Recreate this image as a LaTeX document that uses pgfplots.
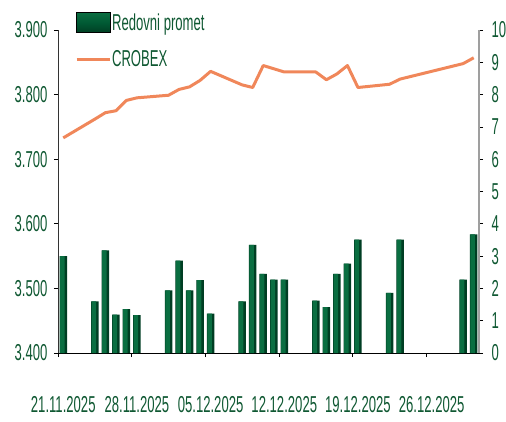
\documentclass[border=0pt]{standalone}
\usepackage{pgfplots}
\pgfplotsset{compat=1.18}
\usepackage{fontspec}
\setmainfont{Liberation Sans}[FakeStretch=0.57]
\definecolor{txtgreen}{RGB}{15,88,50}
\definecolor{barlight}{RGB}{10,110,65}
\definecolor{barmid}{RGB}{0,90,52}
\definecolor{bardark}{RGB}{0,62,35}
\definecolor{crobex}{RGB}{240,135,90}
\pgfplotstableread{
day vol
0 3.0
3 1.6
4 3.18
5 1.19
6 1.36
7 1.17
10 1.94
11 2.86
12 1.94
13 2.26
14 1.22
17 1.6
18 3.35
19 2.45
20 2.27
21 2.27
24 1.62
25 1.42
26 2.45
27 2.77
28 3.51
31 1.86
32 3.51
38 2.27
39 3.67
}\volume
\begin{document}
\begin{tikzpicture}
\pgfplotsset{
  common/.style={
    at={(0pt,0pt)}, anchor=south west, scale only axis,
    width=421pt, height=323pt,
    xmin=-0.5, xmax=39.5,
    tick align=outside, major tick length=4pt,
    tick label style={font=\fontsize{23}{25}\selectfont, text=txtgreen},
  }
}
% right axis: bars
\begin{axis}[common,
  ymin=0, ymax=10,
  axis y line*=right, axis x line*=bottom,
  y axis line style={draw=gray!75, line width=1.5pt},
  x axis line style={draw=black, line width=0.8pt},
  xtick={-0.5,6.5,13.5,20.5,27.5,34.5},
  xticklabels={21.11.2025,28.11.2025,05.12.2025,12.12.2025,19.12.2025,26.12.2025},
  xticklabel style={xshift=5.26pt, yshift=-36pt},
  xtick style={black, line width=0.8pt},
  ytick={0,1,...,10},
  yticklabels={0,1,2,3,4,5,6,7,8,9,10},
  yticklabel style={xshift=5pt},
  ytick style={black, line width=0.8pt},
]
\addplot[ybar, bar width=7.5pt, bar shift=0pt, draw=none, fill=bardark] table[x=day, y=vol] {\volume};
\addplot[ybar, bar width=4.5pt, bar shift=-1pt, draw=none, fill=barlight] table[x=day, y=vol] {\volume};
\end{axis}
% left axis: CROBEX
\begin{axis}[common,
  ymin=3400, ymax=3900,
  axis y line*=left, axis x line=none,
  y axis line style={draw=black!80, line width=0.8pt},
  ytick={3400,3500,3600,3700,3800,3900},
  yticklabels={3.400,3.500,3.600,3.700,3.800,3.900},
  yticklabel style={xshift=-3pt},
  ytick style={black, line width=0.8pt},
  legend style={at={(0.04,1.055)}, anchor=north west, draw=none, fill=none,
    inner sep=0pt, row sep=17pt, font=\fontsize{23}{25}\selectfont, text=txtgreen,
    nodes={inner sep=1pt}},
  legend cell align=left,
]
\addlegendimage{legend image code/.code={\fill[top color=barlight, bottom color=bardark, middle color=barmid] (0pt,-10pt) rectangle (34pt,10pt);}}
\addlegendentry{Redovni promet}
\addplot[crobex, line width=3pt, line join=round, mark=none,
  legend image code/.code={\draw[crobex, line width=3pt] (0pt,0pt) -- (33pt,0pt);}] coordinates {
(0,3733) (3,3762) (4,3772) (5,3775) (6,3791) (7,3795)
(10,3799) (11,3808) (12,3812) (13,3822) (14,3836)
(17,3815) (18,3811) (19,3845) (20,3840) (21,3835)
(24,3835) (25,3823) (26,3832) (27,3845) (28,3811)
(31,3816) (32,3824) (38,3848) (39,3857)
};
\addlegendentry{CROBEX}
\end{axis}
\pgfresetboundingbox
\path[use as bounding box] (-58pt,-68pt) rectangle (448pt,353pt);
\end{tikzpicture}
\end{document}
